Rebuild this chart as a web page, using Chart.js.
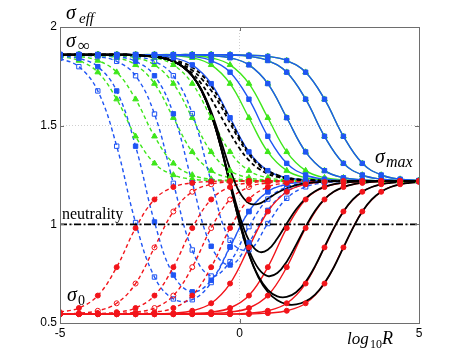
<!DOCTYPE html>
<html>
<head>
<meta charset="utf-8">
<script src="https://cdn.jsdelivr.net/npm/chart.js@4.4.1/dist/chart.umd.min.js"></script>
<style>
  html, body { margin: 0; background: #fff; }
  #wrap { width: 463px; height: 364px; }
</style>
</head>
<body>
<div id="wrap"><canvas id="chart" width="463" height="364"></canvas></div>
<script>
// sample positions (log10 R) of the markers, and a finer grid for the unmarked black curves
const xMark = [-5, -4.474, -3.947, -3.421, -2.895, -2.368, -1.842, -1.316, -0.789, -0.263,
               0.263, 0.789, 1.316, 1.842, 2.368, 2.895, 3.421, 3.947, 4.474, 5];
const xFine = [-5, -4.737, -4.474, -4.211, -3.947, -3.684, -3.421, -3.158, -2.895, -2.632,
               -2.368, -2.105, -1.842, -1.579, -1.316, -1.053, -0.789, -0.526, -0.263, 0,
               0.263, 0.526, 0.789, 1.053, 1.316, 1.579, 1.842, 2.105, 2.368, 2.632,
               2.895, 3.158, 3.421, 3.684, 3.947, 4.211, 4.474, 4.737, 5];

const blueSolid = [
  [1.86,1.86,1.86,1.86,1.86,1.855,1.844,1.808,1.713,1.540,1.367,1.272,1.236,1.225,1.22,1.22,1.22,1.22,1.22,1.22],
  [1.86,1.86,1.86,1.86,1.86,1.86,1.857,1.851,1.830,1.771,1.634,1.446,1.309,1.250,1.229,1.223,1.22,1.22,1.22,1.22],
  [1.86,1.86,1.86,1.86,1.86,1.86,1.86,1.86,1.855,1.844,1.808,1.713,1.540,1.367,1.272,1.236,1.225,1.22,1.22,1.22],
  [1.86,1.86,1.86,1.86,1.86,1.86,1.86,1.86,1.86,1.857,1.851,1.830,1.771,1.634,1.446,1.309,1.250,1.229,1.223,1.22],
  [1.86,1.86,1.86,1.86,1.86,1.86,1.86,1.86,1.86,1.86,1.857,1.851,1.830,1.771,1.634,1.446,1.309,1.250,1.229,1.223]
];
const greenSolid = [
  [1.86,1.86,1.86,1.86,1.86,1.86,1.855,1.844,1.808,1.713,1.540,1.367,1.272,1.236,1.225,1.22,1.22,1.22,1.22,1.22],
  [1.86,1.86,1.86,1.86,1.86,1.86,1.86,1.855,1.844,1.808,1.713,1.540,1.367,1.272,1.236,1.225,1.22,1.22,1.22,1.22],
  [1.86,1.86,1.86,1.86,1.86,1.86,1.86,1.86,1.855,1.844,1.808,1.713,1.540,1.367,1.272,1.236,1.225,1.22,1.22,1.22],
  [1.86,1.86,1.86,1.86,1.86,1.86,1.86,1.86,1.86,1.857,1.851,1.830,1.771,1.634,1.446,1.309,1.250,1.229,1.223,1.22],
  [1.86,1.86,1.86,1.86,1.86,1.86,1.86,1.86,1.86,1.86,1.857,1.851,1.830,1.771,1.634,1.446,1.309,1.250,1.229,1.223]
];
const redSolid = [
  [0.545,0.545,0.545,0.545,0.545,0.545,0.550,0.562,0.600,0.700,0.883,1.065,1.165,1.203,1.215,1.22,1.22,1.22,1.22,1.22],
  [0.545,0.545,0.545,0.545,0.545,0.545,0.545,0.548,0.555,0.576,0.639,0.783,0.981,1.126,1.189,1.210,1.217,1.22,1.22,1.22],
  [0.545,0.545,0.545,0.545,0.545,0.545,0.545,0.545,0.548,0.555,0.576,0.639,0.783,0.981,1.126,1.189,1.210,1.217,1.22,1.22],
  [0.545,0.545,0.545,0.545,0.545,0.545,0.545,0.545,0.545,0.545,0.550,0.562,0.600,0.700,0.883,1.065,1.165,1.203,1.215,1.22],
  [0.545,0.545,0.545,0.545,0.545,0.545,0.545,0.545,0.545,0.545,0.545,0.550,0.562,0.600,0.700,0.883,1.065,1.165,1.203,1.215]
];
const greenDashed = [
  [1.851,1.830,1.771,1.634,1.446,1.309,1.250,1.229,1.223,1.22,1.22,1.22,1.22,1.22,1.22,1.22,1.22,1.22,1.22,1.22],
  [1.857,1.851,1.830,1.771,1.634,1.446,1.309,1.250,1.229,1.223,1.22,1.22,1.22,1.22,1.22,1.22,1.22,1.22,1.22,1.22],
  [1.86,1.86,1.855,1.844,1.808,1.713,1.540,1.367,1.272,1.236,1.225,1.22,1.22,1.22,1.22,1.22,1.22,1.22,1.22,1.22],
  [1.86,1.86,1.86,1.855,1.844,1.808,1.713,1.540,1.367,1.272,1.236,1.225,1.22,1.22,1.22,1.22,1.22,1.22,1.22,1.22],
  [1.86,1.86,1.86,1.86,1.855,1.844,1.808,1.713,1.540,1.367,1.272,1.236,1.225,1.22,1.22,1.22,1.22,1.22,1.22,1.22]
];
const blueDashed = [
  [1.841,1.799,1.676,1.396,1.009,0.733,0.622,0.618,0.705,0.884,1.065,1.165,1.203,1.215,1.22,1.22,1.22,1.22,1.22,1.22],
  [1.854,1.841,1.799,1.676,1.396,1.012,0.743,0.658,0.716,0.887,1.065,1.165,1.203,1.215,1.22,1.22,1.22,1.22,1.22,1.22],
  [1.86,1.857,1.850,1.826,1.753,1.559,1.208,0.870,0.738,0.811,0.988,1.128,1.189,1.210,1.217,1.22,1.22,1.22,1.22,1.22],
  [1.86,1.86,1.857,1.850,1.826,1.753,1.560,1.211,0.889,0.794,0.908,1.071,1.166,1.203,1.215,1.22,1.22,1.22,1.22,1.22],
  [1.86,1.86,1.86,1.857,1.850,1.826,1.753,1.561,1.218,0.919,0.871,1.004,1.132,1.190,1.210,1.217,1.22,1.22,1.22,1.22]
];
const blueDashedOpen = [true, false, true, false, true];
const redDashed = [
  [0.555,0.576,0.639,0.783,0.981,1.126,1.189,1.210,1.217,1.22,1.22,1.22,1.22,1.22,1.22,1.22,1.22,1.22,1.22,1.22],
  [0.545,0.550,0.562,0.600,0.700,0.883,1.065,1.165,1.203,1.215,1.22,1.22,1.22,1.22,1.22,1.22,1.22,1.22,1.22,1.22],
  [0.545,0.545,0.548,0.555,0.576,0.639,0.783,0.981,1.126,1.189,1.210,1.217,1.22,1.22,1.22,1.22,1.22,1.22,1.22,1.22],
  [0.545,0.545,0.545,0.548,0.555,0.576,0.639,0.783,0.981,1.126,1.189,1.210,1.217,1.22,1.22,1.22,1.22,1.22,1.22,1.22],
  [0.545,0.545,0.545,0.545,0.548,0.555,0.576,0.639,0.783,0.981,1.126,1.189,1.210,1.217,1.22,1.22,1.22,1.22,1.22,1.22]
];
const redDashedOpen = [false, true, false, true, false];

const blackSolid = [
  [1.86,1.86,1.86,1.86,1.86,1.86,1.86,1.86,1.857,1.854,1.850,1.841,1.826,1.800,1.754,1.681,1.571,1.429,1.280,1.163,
   1.107,1.104,1.130,1.160,1.183,1.199,1.208,1.213,1.216,1.218,1.22,1.22,1.22,1.22,1.22,1.22,1.22,1.22,1.22],
  [1.86,1.86,1.86,1.86,1.86,1.86,1.86,1.86,1.857,1.854,1.850,1.841,1.826,1.799,1.753,1.677,1.561,1.402,1.218,1.045,
   0.919,0.862,0.871,0.928,1.004,1.076,1.132,1.168,1.190,1.204,1.210,1.215,1.217,1.22,1.22,1.22,1.22,1.22,1.22],
  [1.86,1.86,1.86,1.86,1.86,1.86,1.86,1.86,1.857,1.854,1.850,1.841,1.826,1.799,1.753,1.676,1.559,1.398,1.208,1.020,
   0.870,0.776,0.738,0.753,0.811,0.897,0.988,1.069,1.128,1.166,1.189,1.203,1.210,1.215,1.217,1.22,1.22,1.22,1.22],
  [1.86,1.86,1.86,1.86,1.86,1.86,1.86,1.86,1.857,1.854,1.850,1.841,1.826,1.799,1.753,1.676,1.558,1.396,1.203,1.011,
   0.850,0.737,0.668,0.635,0.632,0.656,0.709,0.788,0.886,0.982,1.065,1.126,1.165,1.189,1.203,1.210,1.215,1.217,1.22],
  [1.86,1.86,1.86,1.86,1.86,1.86,1.86,1.86,1.857,1.854,1.850,1.841,1.826,1.799,1.753,1.676,1.558,1.396,1.203,1.009,
   0.847,0.731,0.657,0.615,0.595,0.594,0.610,0.644,0.703,0.784,0.883,0.981,1.065,1.126,1.165,1.189,1.203,1.210,1.215]
];
const blackDashed = [
  [1.86,1.86,1.86,1.86,1.86,1.86,1.86,1.86,1.857,1.855,1.851,1.845,1.835,1.819,1.795,1.757,1.701,1.623,1.532,1.439,
   1.363,1.307,1.272,1.250,1.236,1.229,1.225,1.223,1.22,1.22,1.22,1.22,1.22,1.22,1.22,1.22,1.22,1.22,1.22],
  [1.86,1.86,1.86,1.86,1.86,1.86,1.86,1.86,1.857,1.854,1.850,1.843,1.830,1.810,1.781,1.737,1.678,1.601,1.513,1.426,
   1.354,1.301,1.267,1.247,1.236,1.229,1.225,1.223,1.22,1.22,1.22,1.22,1.22,1.22,1.22,1.22,1.22,1.22,1.22],
  [1.86,1.86,1.86,1.86,1.86,1.86,1.86,1.86,1.857,1.854,1.850,1.842,1.828,1.804,1.766,1.710,1.636,1.550,1.463,1.385,
   1.324,1.283,1.256,1.240,1.232,1.226,1.225,1.223,1.22,1.22,1.22,1.22,1.22,1.22,1.22,1.22,1.22,1.22,1.22]
];

const neutralX = [-5, 5];
const neutralY = [1, 1];
const xTicks = [-5, 0, 5];
const yTicks = [0.5, 1, 1.5, 2];

const BLUE = '#1f55f4', GREEN = '#3ee61a', RED = '#f2141a', BLACK = '#000';
const SERIF = '"Liberation Serif", "DejaVu Serif", serif';

function pts(xs, ys) { return ys.map((v, i) => ({ x: xs[i], y: v })); }

const datasets = [];
// a curve: the line goes to one layer, its markers to a layer above all lines
function addCurve(ys, xs, color, dash, lineOrder, marker) {
  datasets.push({
    data: pts(xs, ys), borderColor: color, borderWidth: color === BLACK ? 1.8 : 1.4,
    borderDash: dash, pointRadius: 0, tension: 0.4, fill: false, order: lineOrder
  });
  if (!marker) return;
  datasets.push({
    data: pts(xs, ys), showLine: false, pointStyle: marker.style, pointRadius: marker.r,
    pointBorderColor: color, pointBorderWidth: 1,
    pointBackgroundColor: marker.open ? 'rgba(255,255,255,0)' : color, order: marker.order
  });
}

const DASH = [4, 3];
greenDashed.forEach(ys => addCurve(ys, xMark, GREEN, DASH, 40, { style: 'triangle', r: 3.3, order: 8 }));
blueDashed.forEach((ys, i) => addCurve(ys, xMark, BLUE, DASH, 38, { style: 'rect', r: 3.1, open: blueDashedOpen[i], order: 7 }));
redDashed.forEach((ys, i) => addCurve(ys, xMark, RED, DASH, 36, { style: 'circle', r: 2.5, open: redDashedOpen[i], order: 6 }));
greenSolid.forEach(ys => addCurve(ys, xMark, GREEN, [], 34, { style: 'triangle', r: 3.3, order: 5 }));
blueSolid.forEach(ys => addCurve(ys, xMark, BLUE, [], 32, { style: 'rect', r: 3.1, order: 4 }));
redSolid.forEach(ys => addCurve(ys, xMark, RED, [], 30, { style: 'circle', r: 2.5, order: 3 }));
blackDashed.forEach(ys => addCurve(ys, xFine, BLACK, DASH, 20, null));
blackSolid.forEach(ys => addCurve(ys, xFine, BLACK, [], 18, null));
datasets.push({
  data: pts(neutralX, neutralY), borderColor: BLACK, borderWidth: 1.6,
  borderDash: [7, 2.5, 2, 2.5], pointRadius: 0, order: 1
});

const decor = {
  id: 'decor',
  afterDatasetsDraw(chart) {
    const { ctx, chartArea: a, scales: { x, y } } = chart;
    ctx.save();
    ctx.strokeStyle = '#6e6e6e';
    ctx.lineWidth = 1;
    ctx.strokeRect(a.left + 0.5, a.top + 0.5, a.right - a.left, a.bottom - a.top);
    ctx.beginPath();
    xTicks.forEach(v => {
      const px = Math.round(x.getPixelForValue(v)) + 0.5;
      ctx.moveTo(px, a.bottom); ctx.lineTo(px, a.bottom - 4);
      ctx.moveTo(px, a.top); ctx.lineTo(px, a.top + 4);
    });
    yTicks.forEach(v => {
      const py = Math.round(y.getPixelForValue(v)) + 0.5;
      ctx.moveTo(a.left, py); ctx.lineTo(a.left + 4, py);
      ctx.moveTo(a.right, py); ctx.lineTo(a.right - 4, py);
    });
    ctx.stroke();

    ctx.fillStyle = '#000';
    ctx.textBaseline = 'alphabetic';
    ctx.textAlign = 'left';
    const t = (s, px, py, font) => { ctx.font = font; ctx.fillText(s, px, py); };
    t('σ', 66, 19, 'italic 20px ' + SERIF);
    t('eff', 79, 23, 'italic 15px ' + SERIF);
    t('σ', 66, 47, 'italic 20px ' + SERIF);
    t('∞', 78, 51, '17px ' + SERIF);
    t('σ', 375, 163, 'italic 20px ' + SERIF);
    t('max', 386, 167, 'italic 16px ' + SERIF);
    t('σ', 67, 301, 'italic 20px ' + SERIF);
    t('0', 78, 305, '14px ' + SERIF);
    t('neutrality', 62, 219, '16px ' + SERIF);
    t('log', 347, 344, 'italic 17px ' + SERIF);
    t('10', 370, 348, '12px ' + SERIF);
    t('R', 382, 344, 'italic 18px ' + SERIF);
    ctx.restore();
  }
};

const tickFont = { family: '"Liberation Sans", Arial, sans-serif', size: 12 };

new Chart(document.getElementById('chart'), {
  type: 'line',
  data: { datasets },
  options: {
    responsive: false,
    animation: false,
    devicePixelRatio: 1,
    layout: { padding: { left: 20, right: 44, top: 27, bottom: 18 } },
    plugins: { legend: { display: false }, tooltip: { enabled: false } },
    scales: {
      x: {
        type: 'linear', min: -5, max: 5,
        afterBuildTicks: s => { s.ticks = xTicks.map(v => ({ value: v })); },
        afterFit: s => { s.height = 23; },
        ticks: { color: '#000', font: tickFont, padding: 3, maxRotation: 0, callback: v => String(v) },
        grid: { color: '#cfcfcf', lineWidth: 1, drawTicks: false },
        border: { display: false, dash: [1, 2] }
      },
      y: {
        type: 'linear', min: 0.5, max: 2,
        afterBuildTicks: s => { s.ticks = yTicks.map(v => ({ value: v })); },
        afterFit: s => { s.width = 40; },
        ticks: { color: '#000', font: tickFont, padding: 3, callback: v => String(v) },
        grid: { color: '#cfcfcf', lineWidth: 1, drawTicks: false },
        border: { display: false, dash: [1, 2] }
      }
    }
  },
  plugins: [decor]
});
</script>
</body>
</html>
